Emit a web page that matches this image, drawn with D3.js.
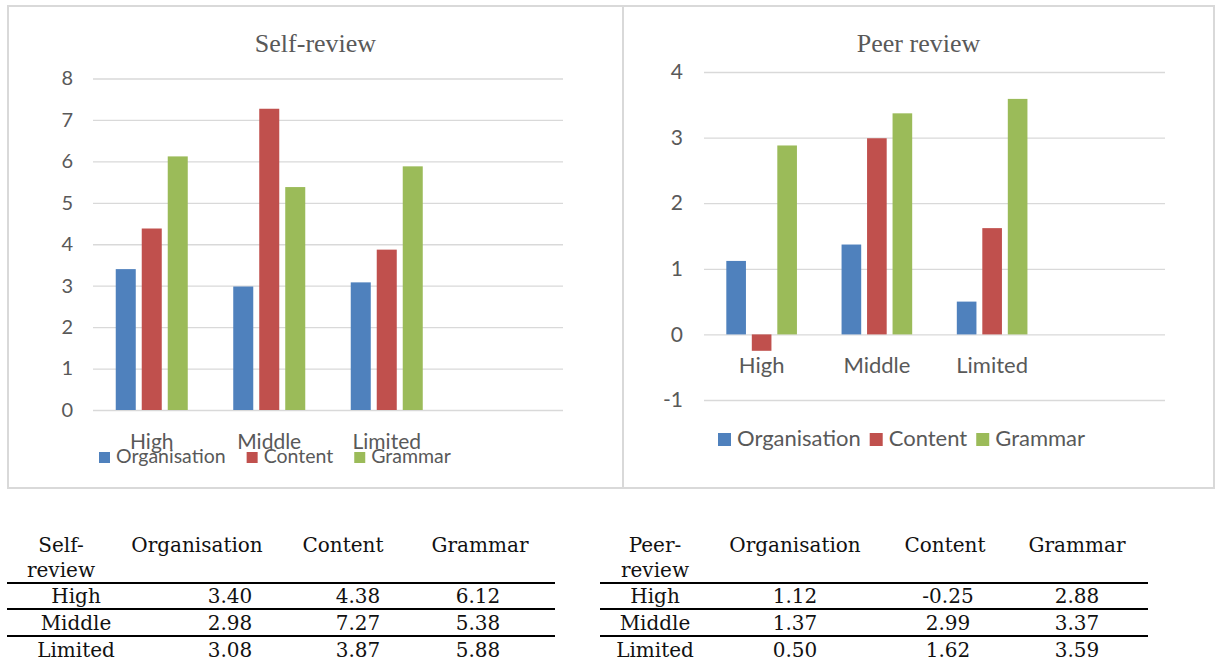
<html>
  <head>
    <meta charset='utf-8'>
    <script src='https://d3js.org/d3.v7.min.js'></script>
    <style>
      body { margin: 0; background: #fff; }
      .tick text { fill: #595959; }
    </style>
  </head>
  <body>
    <div id='chart'></div>
    <script>
        // data
        const categories = ['High', 'Middle', 'Limited'];
        const series = ['Organisation', 'Content', 'Grammar'];
        const colors = ['#4f81bd', '#c0504d', '#9bbb59'];
        // one row per category, one value per series
        const selfValues = [[3.40, 4.38, 6.12], [2.98, 7.27, 5.38], [3.08, 3.87, 5.88]];
        const peerValues = [[1.12, -0.25, 2.88], [1.37, 2.99, 3.37], [0.50, 1.62, 3.59]];
        const selfTicks = [0, 1, 2, 3, 4, 5, 6, 7, 8];
        const peerTicks = [-1, 0, 1, 2, 3, 4];

        const W = 1216, H = 661;
        const svg = d3.select('#chart').append('svg')
            .attr('width', W).attr('height', H);
        svg.append('rect').attr('width', W).attr('height', H).attr('fill', '#fff');

        const sans = 'Lato, "Open Sans", sans-serif';
        const serif = '"DejaVu Serif", serif';

        // panel frames
        svg.append('rect').attr('x', 8).attr('y', 6).attr('width', 615).attr('height', 482)
           .attr('fill', 'none').attr('stroke', '#d9d9d9').attr('stroke-width', 2);
        svg.append('rect').attr('x', 623).attr('y', 6).attr('width', 591).attr('height', 482)
           .attr('fill', 'none').attr('stroke', '#d9d9d9').attr('stroke-width', 2);

        function drawChart(cfg) {
            const g = svg.append('g');
            const y = d3.scaleLinear().domain(cfg.domain).range([cfg.bottom, cfg.top]);
            // Excel leaves an empty fourth slot on the right
            const x0 = d3.scaleBand().domain(categories.concat(['_'])).range([cfg.left, cfg.right]);
            const x1 = d3.scaleBand().domain(series)
                .range([0, x0.bandwidth()]).paddingInner(0.23).paddingOuter(0.875);

            // gridlines + tick labels
            const ax = g.append('g').attr('transform', `translate(${cfg.left},0)`)
                .call(d3.axisLeft(y).tickValues(cfg.ticks).tickSize(-(cfg.right - cfg.left))
                        .tickPadding(cfg.tickPad).tickFormat(d => String(d)));
            ax.select('.domain').remove();
            ax.selectAll('.tick line').attr('stroke', '#d9d9d9').attr('stroke-width', 1.3);
            ax.selectAll('.tick text').attr('font-family', sans).attr('font-size', cfg.tickSize)
              .attr('fill', '#595959');

            // bars
            categories.forEach((c, i) => {
                g.selectAll(null).data(cfg.values[i]).join('rect')
                    .attr('x', (d, j) => x0(c) + x1(series[j]))
                    .attr('width', x1.bandwidth())
                    .attr('y', d => y(Math.max(0, d)))
                    .attr('height', d => Math.abs(y(d) - y(0)))
                    .attr('fill', (d, j) => colors[j]);
            });

            // category labels
            g.selectAll(null).data(categories).join('text')
                .attr('x', d => x0(d) + x0.bandwidth() / 2)
                .attr('y', cfg.catY)
                .attr('text-anchor', 'middle')
                .attr('font-family', sans).attr('font-size', cfg.catSize)
                .attr('fill', '#595959')
                .text(d => d);

            // title
            g.append('text').attr('x', cfg.titleX).attr('y', 52)
                .attr('text-anchor', 'middle')
                .attr('font-family', '"Liberation Serif", serif').attr('font-size', 26)
                .attr('fill', '#595959').text(cfg.title);

            // legend
            let lx = cfg.legX;
            series.forEach((s, j) => {
                g.append('rect').attr('x', lx).attr('y', cfg.legY - cfg.sq)
                    .attr('width', cfg.sq).attr('height', cfg.sq).attr('fill', colors[j]);
                const t = g.append('text').attr('x', lx + cfg.sq + cfg.legGap).attr('y', cfg.legY)
                    .attr('font-family', sans).attr('font-size', cfg.legSize)
                    .attr('fill', '#595959').text(s);
                lx += cfg.sq + cfg.legGap + t.node().getComputedTextLength() + cfg.itemGap;
            });
        }

        drawChart({
            title: 'Self-review', titleX: 315.5, values: selfValues,
            domain: [0, 8], ticks: selfTicks, top: 78.5, bottom: 410,
            left: 93, right: 563, tickPad: 20, tickSize: 20,
            catY: 449, catSize: 21,
            legX: 99, legY: 463, sq: 11, legGap: 6, legSize: 19.5, itemGap: 21
        });
        drawChart({
            title: 'Peer review', titleX: 918.5, values: peerValues,
            domain: [-1, 4], ticks: peerTicks, top: 72, bottom: 400,
            left: 704, right: 1165, tickPad: 21, tickSize: 21,
            catY: 373, catSize: 22,
            legX: 718, legY: 446, sq: 13, legGap: 6, legSize: 22, itemGap: 9
        });

        // tables
        const fmt = v => v.toFixed(2);
        function drawTable(cfg) {
            const g = svg.append('g').attr('font-family', serif).attr('font-size', 20).attr('fill', '#111');
            g.append('text').attr('x', cfg.labelHeadX).attr('y', 552).attr('text-anchor', 'middle').text(cfg.head[0]);
            g.append('text').attr('x', cfg.labelHeadX).attr('y', 577).attr('text-anchor', 'middle').text(cfg.head[1]);
            series.forEach((s, j) => {
                g.append('text').attr('x', cfg.headX[j]).attr('y', 552).attr('text-anchor', 'middle').text(s);
            });
            const rowY = [603, 630, 657];
            const lineY = [583, 609, 636];
            lineY.forEach(ly => {
                g.append('line').attr('x1', cfg.x1).attr('x2', cfg.x2).attr('y1', ly).attr('y2', ly)
                    .attr('stroke', '#000').attr('stroke-width', 2);
            });
            categories.forEach((c, i) => {
                g.append('text').attr('x', cfg.labelX).attr('y', rowY[i]).attr('text-anchor', 'middle').text(c);
                cfg.values[i].forEach((v, j) => {
                    g.append('text').attr('x', cfg.valX[j]).attr('y', rowY[i])
                        .attr('text-anchor', 'middle').text(fmt(v));
                });
            });
        }

        drawTable({
            head: ['Self-', 'review'], values: selfValues, x1: 7, x2: 555,
            labelHeadX: 61, labelX: 76, headX: [197, 343, 480], valX: [230, 358, 478]
        });
        drawTable({
            head: ['Peer-', 'review'], values: peerValues, x1: 600, x2: 1148,
            labelHeadX: 655, labelX: 655, headX: [795, 945, 1077], valX: [795, 948, 1077]
        });
    </script>
  </body>
</html>
